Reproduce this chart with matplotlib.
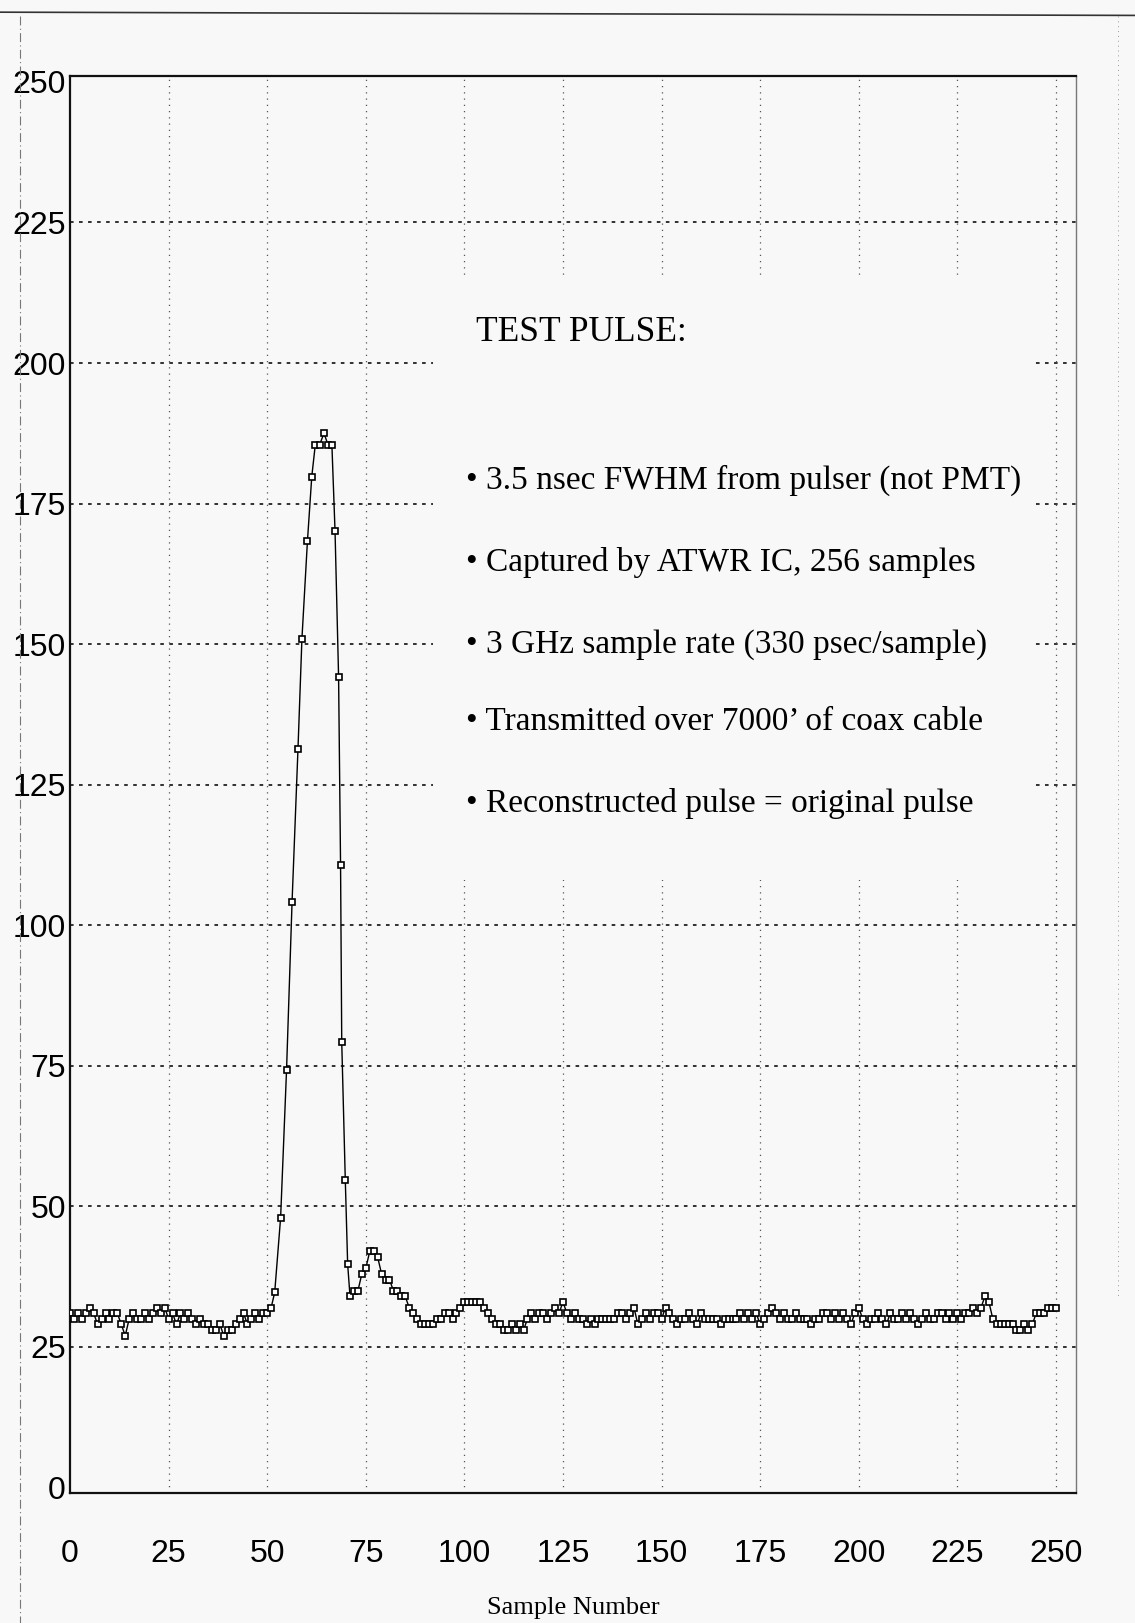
import matplotlib
matplotlib.use("Agg")
import matplotlib.pyplot as plt
from matplotlib.patches import Rectangle
from matplotlib.lines import Line2D
import numpy as np

# ---------------- data ----------------
pre_samples = list(range(0, 52))
pre_values = [31, 30, 31, 30, 31, 32, 31, 29, 30, 31,
              30, 31, 31, 29, 27, 30, 31, 30, 30, 31,
              30, 31, 32, 31, 32, 30, 31, 29, 31, 30,
              31, 30, 29, 30, 29, 29, 28, 28, 29, 27,
              28, 28, 29, 30, 31, 29, 30, 31, 30, 31,
              31, 32]

pulse_samples = [51.9, 53.4, 54.9, 56.3, 57.8, 58.8, 60.2, 61.3, 62.2, 63.3,
                 64.4, 65.4, 66.4, 67.2, 68.1, 68.6, 68.9, 69.8, 70.4]
pulse_values = [34.7, 48.0, 74.2, 104.1, 131.3, 150.9, 168.3, 179.8, 185.5, 185.5,
                187.5, 185.5, 185.5, 170.1, 144.2, 110.7, 79.2, 54.7, 39.7]

post_samples = list(range(71, 251))
post_values = [34, 35, 35, 38, 39, 42, 42, 41, 38,
               37, 37, 35, 35, 34, 34, 32, 31, 30, 29,
               29, 29, 29, 30, 30, 31, 31, 30, 31, 32,
               33, 33, 33, 33, 33, 32, 31, 30, 29, 29,
               28, 28, 29, 28,
               29, 28, 30, 31, 30, 31, 31, 30, 31, 32,
               31, 33, 31, 30, 31, 30, 30, 29, 30, 29,
               30, 30, 30, 30, 30, 31, 31, 30, 31, 32,
               29, 30, 31, 30, 31, 31, 30, 32, 31, 30,
               29, 30, 30, 31, 30, 29, 31, 30, 30, 30,
               30, 29, 30, 30, 30, 30, 31, 30, 31, 30,
               31, 29, 30, 31, 32, 31, 30, 31, 30, 30,
               31, 30, 30, 30, 29, 30, 30, 31, 31, 30,
               31, 30, 31, 30, 29, 31, 32, 30, 29, 30,
               30, 31, 30, 29, 31, 30, 30, 31, 30, 31,
               30, 29, 30, 31, 30, 30, 31, 31, 30, 31,
               30, 31, 30, 31, 31, 32, 31, 32, 34, 33,
               30, 29, 29, 29, 29, 29, 28, 28, 29, 28,
               29, 31, 31, 31, 32, 32, 32]

x_ticks = [0, 25, 50, 75, 100, 125, 150, 175, 200, 225, 250]
y_ticks = [0, 25, 50, 75, 100, 125, 150, 175, 200, 225, 250]
x_tick_labels = ["0", "25", "50", "75", "100", "125", "150", "175", "200", "225", "250"]
y_tick_labels = ["0", "25", "50", "75", "100", "125", "150", "175", "200", "225", "250"]

title_text = "TEST PULSE:"
bullets = ["\u2022 3.5 nsec FWHM from pulser (not PMT)",
           "\u2022 Captured by ATWR IC, 256 samples",
           "\u2022 3 GHz sample rate (330 psec/sample)",
           "\u2022 Transmitted over 7000\u2019 of coax cable",
           "\u2022 Reconstructed pulse = original pulse"]
x_label = "Sample Number"

# ---------------- figure ----------------
bg = "#f8f8f8"
fig = plt.figure(figsize=(11.35, 16.23), dpi=100, facecolor=bg)
ax = fig.add_axes([0.0617, 0.080, 0.886, 0.873], facecolor=bg)

samples = pre_samples + pulse_samples + post_samples
values = pre_values + pulse_values + post_values
ax.plot(samples, values, color="black", lw=1.0, marker="s", ms=5.0,
        mfc="white", mec="black", mew=1.2, zorder=4)

ax.set_xlim(0, 255)
ax.set_ylim(-1, 251)

# gridlines
for y in y_ticks[1:-1]:
    ax.axhline(y, color="#222222", lw=1.3, ls=(0, (2, 3)), zorder=1)
for x in x_ticks[1:]:
    ax.axvline(x, color="#555555", lw=0.9, ls=(0, (1, 4)), zorder=1)

# blank area behind the annotation text
ax.add_patch(Rectangle((92, 108), 152, 107, facecolor=bg, edgecolor="none", zorder=2))

for s in ax.spines.values():
    s.set_linewidth(1.6)
    s.set_color("#111111")
ax.spines["right"].set_linewidth(1.0)
ax.spines["right"].set_color("#777777")

tick_font = ["Liberation Sans", "DejaVu Sans"]
ax.set_xticks(x_ticks)
ax.set_xticklabels(x_tick_labels, fontfamily=tick_font, fontsize=23)
ax.set_yticks(y_ticks)
ax.set_yticklabels(y_tick_labels, fontfamily=tick_font, fontsize=23)
ax.tick_params(axis="x", length=0, pad=33)
ax.tick_params(axis="y", length=0, pad=3)

serif = ["Liberation Serif", "DejaVu Serif"]
ax.text(103, 205.5, title_text, fontfamily=serif, fontsize=25.5, va="center", ha="left", zorder=5)
bullet_y = [179.2, 164.5, 149.9, 136.2, 121.6]
for yy, t in zip(bullet_y, bullets):
    ax.text(100.5, yy, t, fontfamily=serif, fontsize=24, va="center", ha="left", zorder=5)

ax.set_xlabel(x_label, fontfamily=serif, fontsize=19, labelpad=20)

# scanned page border lines
fig.add_artist(Line2D([0.0, 1.0], [0.9925, 0.9905], transform=fig.transFigure,
                      color="#333333", lw=1.2))
fig.add_artist(Line2D([0.018, 0.018], [0.99, 0.0], transform=fig.transFigure,
                      color="#777777", lw=0.8, ls=(0, (8, 3, 1, 3))))
fig.add_artist(Line2D([0.985, 0.985], [0.99, 0.20], transform=fig.transFigure,
                      color="#999999", lw=0.7, ls=(0, (1, 4))))

fig.savefig("out.png", dpi=100, facecolor=bg)
